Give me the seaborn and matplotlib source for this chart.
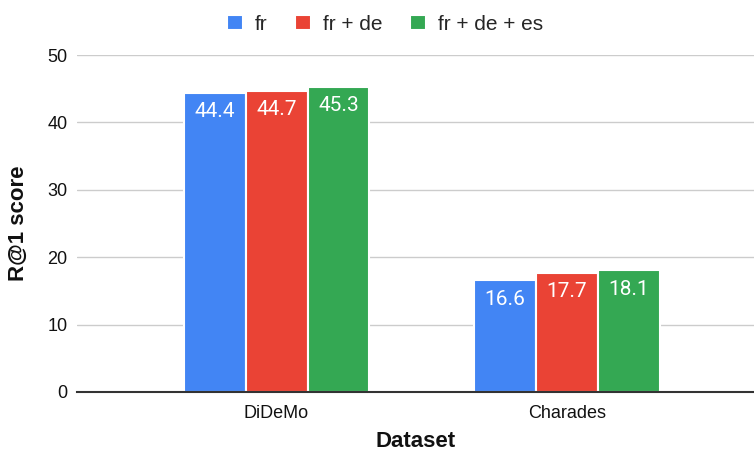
"""
R@1 score per dataset for different training language mixes.
"""

import matplotlib

matplotlib.use("Agg")
import matplotlib.pyplot as plt
import pandas as pd
import seaborn as sns

datasets = ["DiDeMo", "Charades"]
languages = ["fr", "fr + de", "fr + de + es"]
scores = {
    "fr": [44.4, 16.6],
    "fr + de": [44.7, 17.7],
    "fr + de + es": [45.3, 18.1],
}
colors = ["#4285F4", "#EA4335", "#34A853"]

rows = []
for lang in languages:
    for ds, val in zip(datasets, scores[lang]):
        rows.append({"Dataset": ds, "lang": lang, "score": val})
df = pd.DataFrame(rows)

sns.set_theme(style="white")
plt.rcParams["font.family"] = ["Liberation Sans", "DejaVu Sans"]

fig = plt.figure(figsize=(7.54, 4.54), dpi=100)
ax = fig.add_axes([77 / 754, 1 - 392 / 454, 1 - 77 / 754, 337 / 454])

sns.barplot(
    data=df,
    x="Dataset",
    y="score",
    hue="lang",
    order=datasets,
    hue_order=languages,
    palette=colors,
    saturation=1,
    width=0.64,
    edgecolor="white",
    linewidth=1.5,
    ax=ax,
    legend=True,
)

for container in ax.containers:
    for bar in container:
        h = bar.get_height()
        ax.annotate(
            f"{h:.1f}",
            (bar.get_x() + bar.get_width() / 2, h),
            xytext=(0, -7),
            textcoords="offset points",
            ha="center",
            va="top",
            color="white",
            fontsize=15,
            family="Roboto",
        )

ax.set_xlim(-0.687, 1.644)
ax.set_ylim(0, 50)
ax.set_yticks([0, 10, 20, 30, 40, 50])
ax.yaxis.grid(True, color="#cccccc", linewidth=1)
ax.set_axisbelow(True)
for side in ["top", "right", "left"]:
    ax.spines[side].set_visible(False)
ax.spines["bottom"].set_color("#333333")
ax.spines["bottom"].set_linewidth(1.5)
ax.tick_params(axis="both", length=0, labelsize=13, colors="#111111", pad=7)
ax.tick_params(axis="x", labelsize=13, pad=9)
ax.set_xlabel("Dataset", fontsize=16, fontweight="bold", labelpad=7, color="#111111")
ax.set_ylabel("R@1 score", fontsize=16, fontweight="bold", labelpad=13, color="#111111")

handles, labels = ax.get_legend_handles_labels()
ax.legend(
    handles,
    labels,
    loc="upper center",
    bbox_to_anchor=(0.455, 1.175),
    ncol=3,
    frameon=False,
    fontsize=15,
    handlelength=0.77,
    handleheight=0.77,
    handletextpad=0.6,
    columnspacing=1.3,
)

fig.savefig("out.png", dpi=100)
plt.close(fig)
